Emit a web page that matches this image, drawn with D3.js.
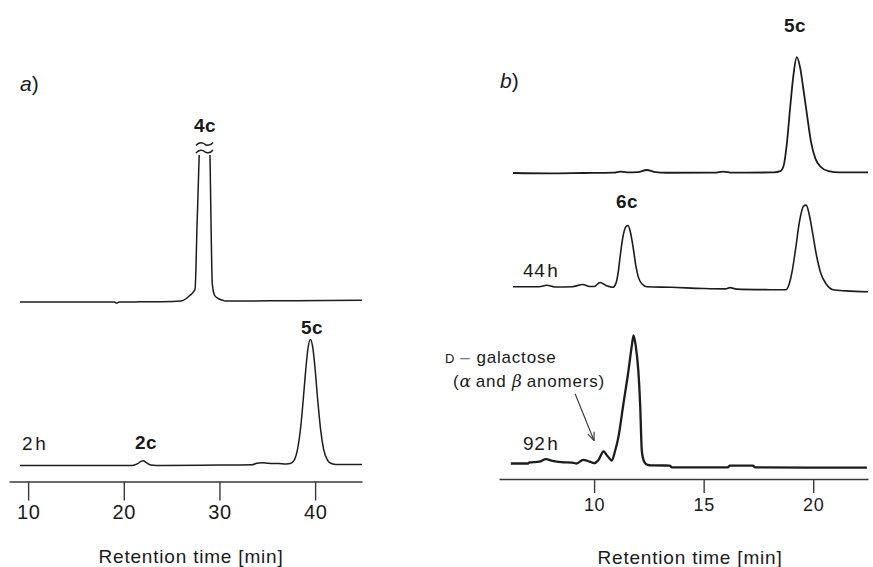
<!DOCTYPE html>
<html>
<head>
<meta charset="utf-8">
<script src="https://cdn.jsdelivr.net/npm/d3@7"></script>
<style>
  html, body { margin: 0; padding: 0; background: #fff; }
  svg text { font-family: "Liberation Sans", Arial, Helvetica, sans-serif; fill: #1a1a1a; }
</style>
</head>
<body>
<svg id="chart" width="873" height="567"></svg>
<script>
// ── Panel a : retention time (min) / detector signal (arb. units) ──
const aTicks = [10, 20, 30, 40];

const aTopTime = [9.15, 15, 19.0, 19.25, 19.5, 24, 26.0, 26.5, 26.9, 27.3, 27.45, 27.66, 27.9, 28.0,
  28.95, 29.0, 29.12, 29.25, 29.5, 29.8, 30.3, 30.6, 31.5, 38, 44.9];
const aTopSig = [0, 0, 0, -0.8, 0, 0.2, 0.8, 2.5, 5, 8, 10, 60, 118, 150,
  150, 118, 60, 14, 5, 3, 1.5, 0.8, 0.8, 1.0, 1.3];

const a2hTime = [9.15, 20.9, 21.4, 21.8, 22.05, 22.35, 22.8, 24, 30, 33.4, 33.9, 34.5, 35.1, 36.2,
  37.0, 37.4, 37.8, 38.2, 38.5, 38.75, 39.0, 39.25, 39.5, 39.75, 40.0, 40.3, 40.6, 40.9, 41.3, 41.7, 42.2, 44.9];
const a2hSig = [0, 0, 1.2, 3.2, 3.6, 2.2, 0.4, 0, 0.3, 0.5, 1.8, 2.2, 1.8, 1.5,
  1.2, 1.5, 4, 14, 30, 50, 72, 90, 97, 91, 74, 48, 26, 12, 4, 1.5, 0.8, 0.8];

// ── Panel b ──
const bTicks = [10, 15, 20];

const bTopTime = [6.3, 8.0, 9.5, 10.9, 11.2, 11.5, 12.0, 12.4, 12.8, 13.3, 15.5, 15.9, 16.3, 18.2,
  18.5, 18.65, 18.8, 18.95, 19.1, 19.25, 19.4, 19.55, 19.72, 19.9, 20.1, 20.35, 20.7, 21.2, 22.5];
const bTopSig = [0, -0.3, 0, 0.3, 1.2, 0.5, 0.8, 2.5, 0.8, 0.2, 0.3, 1.2, 0.3, 0.5,
  1.5, 6, 25, 55, 82, 96.5, 88, 70, 48, 26, 12, 5, 1.5, 0.5, 0.5];

const b44Time = [6.3, 7.5, 7.84, 8.2, 9.0, 9.48, 9.8, 10.0, 10.27, 10.6, 10.85, 11.0, 11.1, 11.2,
  11.32, 11.45, 11.55, 11.65, 11.78, 11.9, 12.02, 12.2, 12.4, 13.5, 15.0, 16.0, 16.2, 16.5, 18.0,
  18.75, 18.9, 19.05, 19.2, 19.38, 19.55, 19.68, 19.82, 19.98, 20.15, 20.35, 20.6, 20.9, 21.5, 22.5];
const b44Sig = [0, 0, 1.2, -0.2, 0, 1.8, 0.2, 0.2, 3.5, 0.5, -0.5, 3, 12, 27,
  42, 50, 51, 46, 33, 18, 8, 2, 0, -0.5, -1.5, -1.8, -0.8, -2, -2.5,
  -2.6, 2, 14, 32, 55, 67, 68, 60, 44, 26, 11, 2, -2.5, -3.5, -4.2];

const b92Time = [6.2, 7.0, 7.05, 7.5, 7.8, 8.1, 8.5, 9.0, 9.2, 9.5, 9.8, 10.0, 10.2, 10.43, 10.62,
  10.81, 10.95, 11.11, 11.34, 11.57, 11.72, 11.8, 11.9, 12.02, 12.1, 12.18, 12.3, 12.45, 12.6,
  13.45, 13.55, 16.1, 16.2, 17.25, 17.35, 22.45];
const b92Sig = [0, 0, 0.9, 1.5, 3.6, 2.2, 1.2, 0.8, 0, 3, 1.5, 0.3, 3, 10, 6,
  2.5, 10, 22, 50, 77.5, 98, 106.7, 98, 77, 50, 10, 1, -1.2, -1.6,
  -1.7, -3.3, -3.3, -1.7, -1.7, -3.3, -3.4];

const FONT = '"Liberation Sans", Arial, Helvetica, sans-serif';
const INK = '#1c1c1c';

const svg = d3.select('#chart');

const xA = d3.scaleLinear().domain([8, 44.9]).range([9, 362]);
const xB = d3.scaleLinear().domain([5.66, 22.5]).range([499, 868]);

// one y scale per trace: baseline pixel, k = pixels per signal unit
const yTrace = (base, k) => d3.scaleLinear().domain([0, 100]).range([base, base - 100 * k]);

const yATop = yTrace(302, 1.3);
const yA2h  = yTrace(465.5, 1.3);
const yBTop = yTrace(173, 1.2);
const yB44  = yTrace(286.7, 1.2);
const yB92  = yTrace(463.5, 1.2);

// clip for the off-scale 4c peak
svg.append('defs').append('clipPath').attr('id', 'clipA')
  .append('rect').attr('x', 0).attr('y', 155).attr('width', 873).attr('height', 400);

function trace(x, y, times, sig, width, clip) {
  const pts = times.map((t, i) => [t, sig[i]]);
  const line = d3.line().x(d => x(d[0])).y(d => y(d[1])).curve(d3.curveMonotoneX);
  const p = svg.append('path').datum(pts)
    .attr('d', line)
    .attr('fill', 'none')
    .attr('stroke', INK)
    .attr('stroke-width', width)
    .attr('stroke-linejoin', 'round');
  if (clip) p.attr('clip-path', `url(#${clip})`);
}

function axis(x, ticks, y, size, fs, pad) {
  const g = svg.append('g').attr('transform', `translate(0,${y})`)
    .attr('font-family', FONT)
    .call(d3.axisBottom(x).tickValues(ticks).tickSize(size).tickSizeOuter(0).tickPadding(pad));
  g.select('.domain').attr('stroke', '#3a3a3a').attr('stroke-width', 1.6);
  g.selectAll('.tick line').attr('stroke', '#3a3a3a').attr('stroke-width', 1.4);
  g.selectAll('.tick text').attr('font-size', fs).attr('fill', '#1a1a1a').attr('letter-spacing', 0.6);
}

function label(x, y, txt, o = {}) {
  return svg.append('text')
    .attr('x', x).attr('y', y)
    .attr('text-anchor', o.anchor || 'start')
    .attr('font-size', o.size || 19)
    .attr('font-weight', o.bold ? 'bold' : null)
    .attr('letter-spacing', o.ls == null ? 0.8 : o.ls)
    .text(txt);
}

// "2 h" style labels with a narrow gap
function hours(x, y, n) {
  const t = label(x, y, '', { size: 19, ls: 0.6 });
  t.append('tspan').text(n);
  t.append('tspan').attr('dx', 2).text('h');
}

// ── traces ──
trace(xA, yATop, aTopTime, aTopSig, 1.5, 'clipA');
trace(xA, yA2h, a2hTime, a2hSig, 1.5);
trace(xB, yBTop, bTopTime, bTopSig, 1.8);
trace(xB, yB44, b44Time, b44Sig, 1.6);
trace(xB, yB92, b92Time, b92Sig, 2.3);

// ── axes ──
axis(xA, aTicks, 481.5, 19, 20, 4);
axis(xB, bTicks, 479, 14, 18, 5);

label(191, 563, 'Retention time [min]', { anchor: 'middle', size: 19 });
label(690, 564, 'Retention time [min]', { anchor: 'middle', size: 19 });

// ── panel letters ──
const pa = label(20, 91, '', { size: 21, ls: 0 });
pa.append('tspan').attr('font-style', 'italic').text('a');
pa.append('tspan').text(')');
const pb = label(500, 88, '', { size: 21, ls: 0 });
pb.append('tspan').attr('font-style', 'italic').text('b');
pb.append('tspan').text(')');

// ── peak labels ──
label(205, 132, '4c', { anchor: 'middle', bold: true, ls: 0.5 });
label(312, 334, '5c', { anchor: 'middle', bold: true, ls: 0.5 });
label(146, 449, '2c', { anchor: 'middle', bold: true, ls: 0.5 });
label(795, 32, '5c', { anchor: 'middle', bold: true, ls: 0.5 });
label(627, 208, '6c', { anchor: 'middle', bold: true, ls: 0.5 });

hours(22, 450, '2');
hours(523, 277, '44');
hours(523, 450, '92');

// break marks on the 4c peak
const tilde = yy => {
  const p = d3.path();
  p.moveTo(196, yy + 1.5);
  p.bezierCurveTo(199, yy - 2.5, 203, yy - 1.5, 204.5, yy);
  p.bezierCurveTo(206, yy + 1.5, 210, yy + 2.5, 213, yy - 1.5);
  return p.toString();
};
[144, 151.5].forEach(yy => svg.append('path').attr('d', tilde(yy))
  .attr('fill', 'none').attr('stroke', INK).attr('stroke-width', 1.4));

// ── galactose annotation ──
const g1 = label(445, 363, '', { size: 17, ls: 0.8 });
g1.append('tspan').attr('font-size', 13).text('D');
g1.append('tspan').attr('fill', '#777').attr('dx', 5).text('–');
g1.append('tspan').attr('dx', 6).text('galactose');

const g2 = label(453, 387, '', { size: 17, ls: 0.8 });
g2.append('tspan').text('(');
g2.append('tspan').attr('font-family', '"DejaVu Serif", "Liberation Serif", serif')
  .attr('font-style', 'italic').text('α');
g2.append('tspan').attr('dx', 4).text('and ');
g2.append('tspan').attr('font-family', '"DejaVu Serif", "Liberation Serif", serif')
  .attr('font-style', 'italic').text('β');
g2.append('tspan').attr('dx', 4).text('anomers)');

// arrow to the anomer peaks of the 92 h trace
const tip = [xB(10.0), yB92(19)];
const tail = [tip[0] - 19, tip[1] - 47];
const ang = Math.atan2(tip[1] - tail[1], tip[0] - tail[0]);
svg.append('line')
  .attr('x1', tail[0]).attr('y1', tail[1]).attr('x2', tip[0]).attr('y2', tip[1])
  .attr('stroke', '#333').attr('stroke-width', 1.1);
[-0.38, 0.38].forEach(da => {
  svg.append('line')
    .attr('x1', tip[0]).attr('y1', tip[1])
    .attr('x2', tip[0] - 9 * Math.cos(ang + da)).attr('y2', tip[1] - 9 * Math.sin(ang + da))
    .attr('stroke', '#333').attr('stroke-width', 1.1);
});
</script>
</body>
</html>
